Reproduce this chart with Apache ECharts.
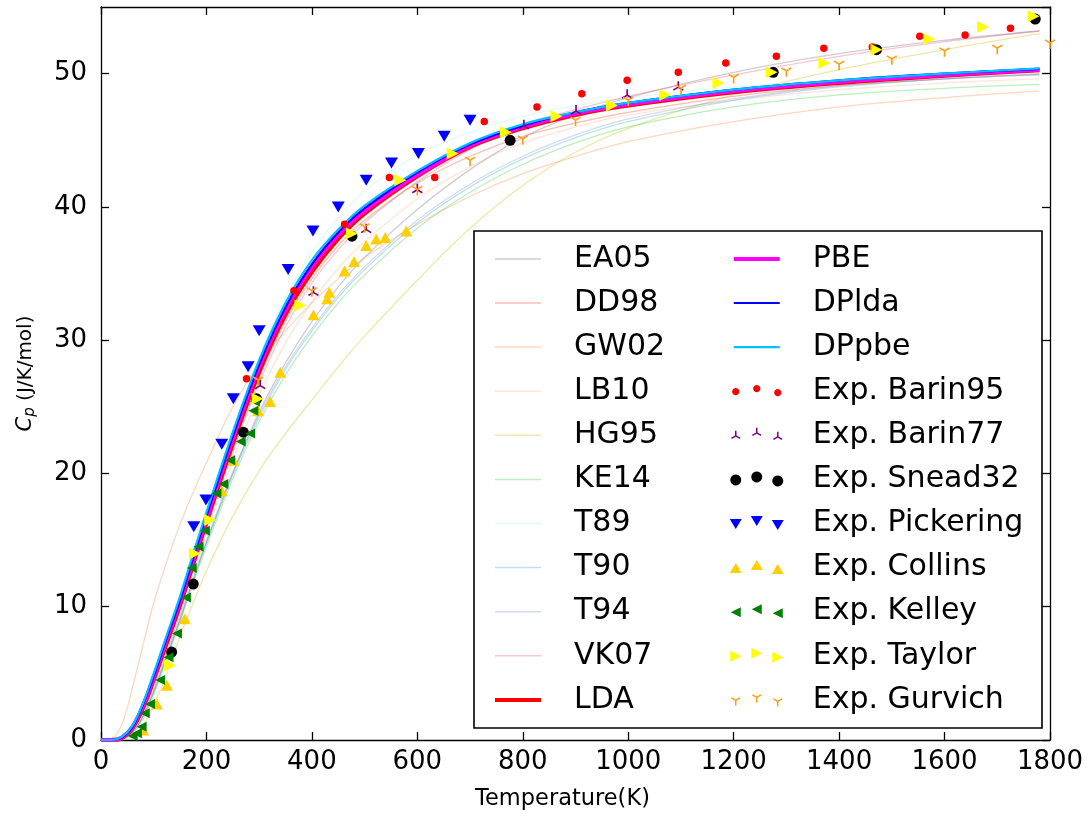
<!DOCTYPE html>
<html><head><meta charset="utf-8">
<script src="https://cdn.jsdelivr.net/npm/echarts@6/dist/echarts.min.js"></script>
<style>html,body{margin:0;padding:0;background:#fff}#c{width:1092px;height:816px}</style>
</head><body><div id="c"></div>
<script>
// ---------- data ----------
const T_GRID = [0, 20, 40, 60, 80, 100, 125, 150, 175, 200, 250, 300, 350, 400, 450, 500, 600, 700, 800, 900, 1000, 1200, 1400, 1600, 1780];
const EA05  = [0, 0, 0.1, 0.6, 1.8, 3.6, 6.3, 9.0, 12.0, 14.8, 20.0, 24.6, 28.3, 31.4, 34.0, 36.2, 39.8, 42.8, 45.2, 46.9, 48.2, 50.1, 51.5, 52.5, 53.2];
const DD98  = [0, 0, 0.2, 0.9, 2.4, 4.4, 7.2, 10.0, 13.1, 16.1, 22.0, 27.2, 31.4, 34.6, 37.1, 39.0, 41.8, 43.8, 45.3, 46.3, 47.1, 48.3, 49.1, 49.6, 50.0];
const GW02  = [0, 0.1, 1.2, 4.0, 7.2, 10.3, 13.4, 16.2, 18.6, 20.8, 25.0, 28.2, 30.7, 32.8, 34.6, 36.2, 38.7, 40.8, 42.5, 43.8, 44.9, 46.4, 47.5, 48.2, 48.7];
const LB10  = [0, 0, 0.1, 0.6, 1.9, 3.8, 6.6, 9.5, 12.6, 15.5, 21.0, 25.9, 29.8, 32.9, 35.4, 37.4, 40.6, 43.0, 44.8, 46.0, 46.9, 48.0, 48.8, 49.3, 49.6];
const HG95  = [0, 0, 0, 0.3, 1.1, 2.6, 5.0, 7.8, 10.3, 12.7, 16.8, 20.2, 23.0, 25.5, 28.0, 30.3, 34.5, 38.4, 41.6, 44.1, 45.9, 48.4, 50.3, 51.8, 53.0];
const KE14  = [0, 0, 0.1, 0.5, 1.6, 3.4, 6.1, 8.9, 11.8, 14.5, 19.6, 23.9, 27.4, 30.3, 32.8, 34.9, 38.4, 41.1, 43.2, 44.8, 46.0, 47.5, 48.4, 48.9, 49.2];
const T89   = [0, 0, 0.2, 1.0, 2.7, 4.8, 7.8, 10.6, 13.8, 16.9, 23.1, 28.7, 33.2, 36.6, 39.2, 41.2, 43.9, 45.6, 46.8, 47.6, 48.2, 49.0, 49.5, 49.8, 49.9];
const T90   = [0, 0, 0.1, 0.6, 1.8, 3.6, 6.3, 9.1, 12.0, 14.8, 19.9, 24.2, 27.8, 30.7, 33.2, 35.3, 38.8, 41.5, 43.6, 45.2, 46.4, 48.0, 49.0, 49.6, 49.95];
const T94   = [0, 0, 0.1, 0.6, 1.8, 3.7, 6.4, 9.2, 12.2, 15.0, 20.1, 24.4, 28.0, 30.9, 33.4, 35.5, 39.0, 41.7, 43.8, 45.4, 46.6, 48.1, 49.1, 49.6, 49.9];
const VK07  = [0, 0, 0.15, 0.8, 2.3, 4.3, 7.0, 9.9, 13.0, 16.0, 21.6, 26.8, 31.0, 34.3, 36.8, 38.8, 41.9, 44.3, 46.2, 47.3, 48.3, 49.9, 51.3, 52.4, 53.2];
const LDA   = [0, 0, 0.15, 0.9, 2.4, 4.5, 7.3, 10.1, 13.2, 16.3, 22.2, 27.6, 31.9, 35.1, 37.6, 39.5, 42.3, 44.5, 45.9, 46.9, 47.6, 48.6, 49.3, 49.85, 50.25];
const PBE   = [0, 0, 0.2, 1.0, 2.6, 4.7, 7.6, 10.4, 13.5, 16.6, 22.6, 28.0, 32.3, 35.5, 37.9, 39.7, 42.4, 44.6, 46.0, 47.0, 47.7, 48.7, 49.4, 49.9, 50.3];
const DPLDA = [0, 0, 0.2, 1.0, 2.7, 4.8, 7.7, 10.5, 13.7, 16.8, 22.8, 28.2, 32.5, 35.7, 38.1, 39.9, 42.6, 44.7, 46.1, 47.1, 47.8, 48.8, 49.5, 50.0, 50.35];
const DPPBE = [0, 0, 0.25, 1.1, 2.8, 5.0, 7.9, 10.8, 14.0, 17.1, 23.1, 28.5, 32.8, 36.0, 38.3, 40.1, 42.7, 44.8, 46.2, 47.1, 47.8, 48.8, 49.5, 50.0, 50.4];

const BARIN95_T  = [276, 366, 462, 547, 633, 727, 827, 912, 998, 1095, 1185, 1281, 1371, 1463, 1553, 1639, 1725];
const BARIN95_CP = [27.1, 33.7, 38.7, 42.2, 42.2, 46.4, 47.5, 48.5, 49.5, 50.1, 50.8, 51.3, 51.9, 52.0, 52.8, 52.9, 53.4];
const BARIN77_T  = [302, 403, 503, 600, 802, 901, 998, 1095];
const BARIN77_CP = [26.7, 33.7, 38.4, 41.4, 46.2, 47.3, 48.5, 49.1];
const SNEAD32_T  = [134, 175, 270, 295, 476, 776, 1275, 1471, 1772];
const SNEAD32_CP = [6.6, 11.7, 23.1, 25.6, 37.8, 45.0, 50.1, 51.8, 54.1];
const PICKERING_T  = [176, 199, 229, 251, 279, 300, 355, 402, 450, 503, 551, 602, 651, 700];
const PICKERING_CP = [16.0, 18.0, 22.2, 25.6, 28.0, 30.7, 35.3, 38.2, 40.0, 42.0, 43.3, 44.0, 45.3, 46.5];
const COLLINS_T  = [80, 106, 125, 159, 229, 251, 298, 321, 340, 403, 429, 433, 462, 480, 503, 522, 539, 579];
const COLLINS_CP = [0.75, 2.7, 4.1, 9.1, 18.7, 21.0, 24.7, 25.4, 27.6, 31.9, 33.1, 33.6, 35.2, 35.9, 37.1, 37.6, 37.7, 38.2];
const KELLEY_T  = [60, 68, 77, 83, 93, 112, 128, 144, 161, 172, 185, 197, 219, 232, 245, 265, 283, 289, 292];
const KELLEY_CP = [0.3, 0.5, 1.0, 2.0, 2.7, 4.5, 6.2, 8.0, 10.7, 12.9, 14.5, 15.7, 18.5, 19.2, 21.0, 22.4, 23.0, 24.7, 25.4];
const TAYLOR_T  = [131, 178, 207, 297, 378, 476, 568, 667, 768, 864, 969, 1070, 1171, 1272, 1372, 1471, 1571, 1673, 1769];
const TAYLOR_CP = [5.6, 14.0, 16.5, 25.6, 32.6, 38.0, 42.0, 44.0, 45.6, 46.8, 47.6, 48.4, 49.3, 50.1, 50.8, 51.8, 52.6, 53.5, 54.3];
const GURVICH_T  = [298, 400, 500, 600, 700, 800, 900, 1000, 1100, 1200, 1300, 1400, 1500, 1600, 1700, 1800];
const GURVICH_CP = [26.9, 33.6, 38.4, 41.2, 43.4, 45.0, 46.4, 47.9, 48.8, 49.6, 50.1, 50.6, 51.0, 51.6, 51.8, 52.2];

const X_TICKS = [0, 200, 400, 600, 800, 1000, 1200, 1400, 1600, 1800];
const Y_TICKS = [0, 10, 20, 30, 40, 50];

// ---------- helpers ----------
const FONT = 'DejaVu Sans';
const zip = (xs, ys) => xs.map((x, i) => [x, ys[i]]);
const IW = 58, IH = 20;
const XS = [8, 29, 50], YO = [0.5, -2.5, 1.5];
const frame = () => `M0,0 M${IW},${IH} `;
function lineIcon(w) {
  const a = IH / 2 - w / 2, b = IH / 2 + w / 2;
  return `path://${frame()}M6,${a}L52,${a}L52,${b}L6,${b}Z`;
}
function polyIcon(pts) {
  let s = frame();
  XS.forEach((x, i) => {
    const y = IH / 2 + YO[i];
    s += 'M' + pts.map(p => `${(x + p[0]).toFixed(2)},${(y + p[1]).toFixed(2)}`).join('L') + 'Z';
  });
  return 'path://' + s;
}
function circ(r) { const a = []; for (let k = 0; k < 20; k++) { const t = k / 20 * 2 * Math.PI; a.push([r * Math.cos(t), r * Math.sin(t)]); } return a; }
function tri(w, h, dir) {
  if (dir === 'down') return [[-w/2, -h/2], [w/2, -h/2], [0, h/2]];
  if (dir === 'up') return [[0, -h/2], [w/2, h/2], [-w/2, h/2]];
  if (dir === 'left') return [[-h/2, 0], [h/2, -w/2], [h/2, w/2]];
  return [[h/2, 0], [-h/2, -w/2], [-h/2, w/2]];
}
function spokeIcon(r, up) {
  let s = frame();
  XS.forEach((x, i) => {
    const y = IH / 2 + YO[i];
    const d = up ? [[0, -r], [-0.866 * r, 0.5 * r], [0.866 * r, 0.5 * r]] : [[0, r], [-0.866 * r, -0.5 * r], [0.866 * r, -0.5 * r]];
    d.forEach(p => { s += `M${x},${y}L${(x + p[0]).toFixed(2)},${(y + p[1]).toFixed(2)}`; });
  });
  return 'path://' + s;
}
const TRI_UP_PATH = 'path://M0,0L0,-10M0,0L-8.66,5M0,0L8.66,5';
const TRI_DOWN_PATH = 'path://M0,0L0,10M0,0L-8.66,-5M0,0L8.66,-5';

const theory = [
  { name: 'EA05', d: EA05, c: 'rgba(120,110,120,0.35)', w: 1.3 },
  { name: 'DD98', d: DD98, c: 'rgba(240,90,60,0.4)', w: 1.3 },
  { name: 'GW02', d: GW02, c: 'rgba(255,140,70,0.35)', w: 1.3 },
  { name: 'LB10', d: LB10, c: 'rgba(255,150,100,0.25)', w: 1.3 },
  { name: 'HG95', d: HG95, c: 'rgba(215,195,40,0.4)', w: 1.3 },
  { name: 'KE14', d: KE14, c: 'rgba(60,210,60,0.35)', w: 1.3 },
  { name: 'T89', d: T89, c: 'rgba(150,240,240,0.3)', w: 1.3 },
  { name: 'T90', d: T90, c: 'rgba(70,170,210,0.35)', w: 1.3 },
  { name: 'T94', d: T94, c: 'rgba(100,140,200,0.3)', w: 1.3 },
  { name: 'VK07', d: VK07, c: 'rgba(235,90,120,0.35)', w: 1.3 },
  { name: 'LDA', d: LDA, c: '#ff0000', w: 4 },
  { name: 'PBE', d: PBE, c: '#ff00ff', w: 4 },
  { name: 'DPlda', d: DPLDA, c: '#0000ff', w: 2.2 },
  { name: 'DPpbe', d: DPPBE, c: '#00bfff', w: 2.2 }
];

const exps = [
  { name: 'Exp. Barin95', t: BARIN95_T, v: BARIN95_CP, color: '#ff0000', symbol: 'circle', size: 7.5, icon: polyIcon(circ(3.6)) },
  { name: 'Exp. Barin77', t: BARIN77_T, v: BARIN77_CP, color: '#800080', symbol: TRI_UP_PATH, size: [10, 9], spoke: true, icon: spokeIcon(5, true) },
  { name: 'Exp. Snead32', t: SNEAD32_T, v: SNEAD32_CP, color: '#000000', symbol: 'circle', size: 11, icon: polyIcon(circ(5.5)) },
  { name: 'Exp. Pickering', t: PICKERING_T, v: PICKERING_CP, color: '#0000ff', symbol: 'triangle', rot: 180, size: [13, 11], icon: polyIcon(tri(12, 10, 'down')) },
  { name: 'Exp. Collins', t: COLLINS_T, v: COLLINS_CP, color: '#ffd000', symbol: 'triangle', rot: 0, size: [12, 11], icon: polyIcon(tri(12, 10, 'up')) },
  { name: 'Exp. Kelley', t: KELLEY_T, v: KELLEY_CP, color: '#008000', symbol: 'triangle', rot: 90, size: [10, 10], icon: polyIcon(tri(10, 10, 'left')) },
  { name: 'Exp. Taylor', t: TAYLOR_T, v: TAYLOR_CP, color: '#ffff00', symbol: 'triangle', rot: -90, size: [12, 12], icon: polyIcon(tri(11, 11, 'right')) },
  { name: 'Exp. Gurvich', t: GURVICH_T, v: GURVICH_CP, color: '#ff9f10', symbol: TRI_DOWN_PATH, size: [10, 9], spoke: true, icon: spokeIcon(5, false) }
];

const series = [];
theory.forEach(t => series.push({
  type: 'line', name: t.name, data: zip(T_GRID, t.d), smooth: 0.35, symbol: 'none', showSymbol: false,
  lineStyle: { color: t.c, width: t.w }, itemStyle: { color: t.c }, silent: true, z: 2
}));
exps.forEach(e => series.push({
  type: 'scatter', name: e.name, data: zip(e.t, e.v), symbol: e.symbol, symbolSize: e.size, symbolRotate: e.rot || 0,
  itemStyle: e.spoke ? { color: 'rgba(0,0,0,0)', borderColor: e.color, borderWidth: 1.6, opacity: 1 } : { color: e.color, opacity: 1 },
  silent: true, z: 3
}));

function legendItem(name) {
  const t = theory.find(x => x.name === name);
  if (t) return { name, icon: lineIcon(t.w < 2 ? 1.5 : t.w) };
  const e = exps.find(x => x.name === name);
  if (e.spoke) return { name, icon: e.icon, itemStyle: { color: 'rgba(0,0,0,0)', borderColor: e.color, borderWidth: 1.5 } };
  return { name, icon: e.icon };
}
const COL1 = ['EA05', 'DD98', 'GW02', 'LB10', 'HG95', 'KE14', 'T89', 'T90', 'T94', 'VK07', 'LDA'];
const COL2 = ['PBE', 'DPlda', 'DPpbe', 'Exp. Barin95', 'Exp. Barin77', 'Exp. Snead32', 'Exp. Pickering', 'Exp. Collins', 'Exp. Kelley', 'Exp. Taylor', 'Exp. Gurvich'];

const legendBase = {
  orient: 'vertical', top: 243.9, itemWidth: IW, itemHeight: IH, itemGap: 14.1, padding: 0,
  selectedMode: false, z: 10,
  itemStyle: { borderWidth: 0 },
  textStyle: { fontFamily: FONT, fontSize: 30, color: '#000', lineHeight: 30, padding: [0, 0, 0, 22] }
};

const axisCommon = {
  type: 'value',
  axisLine: { show: true, onZero: false, lineStyle: { color: '#000', width: 1.3 } },
  axisTick: { show: true, inside: true, length: 8, lineStyle: { color: '#000', width: 1.3 } },
  splitLine: { show: false }
};

const chart = echarts.init(document.getElementById('c'), null, { renderer: 'canvas' });
chart.setOption({
  animation: false,
  backgroundColor: '#fff',
  grid: { left: 101, right: 42, top: 7, bottom: 76, containLabel: false, outerBoundsMode: 'none' },
  xAxis: [
    Object.assign({}, axisCommon, {
      position: 'bottom', min: X_TICKS[0], max: X_TICKS[X_TICKS.length - 1], interval: X_TICKS[1] - X_TICKS[0],
      axisLabel: { fontFamily: FONT, fontSize: 26, color: '#000', margin: 9, formatter: v => String(v) },
      name: 'Temperature(K)', nameLocation: 'middle', nameGap: 48,
      nameTextStyle: { fontFamily: FONT, fontSize: 22.5, color: '#000', padding: [0, 26, 0, 0] }
    }),
    Object.assign({}, axisCommon, {
      position: 'top', min: X_TICKS[0], max: X_TICKS[X_TICKS.length - 1], interval: X_TICKS[1] - X_TICKS[0],
      axisLabel: { show: false }
    })
  ],
  yAxis: [
    Object.assign({}, axisCommon, {
      position: 'left', min: Y_TICKS[0], max: 55, interval: Y_TICKS[1] - Y_TICKS[0],
      axisLabel: { fontFamily: FONT, fontSize: 26, color: '#000', margin: 14, showMaxLabel: false,
        formatter: v => (Y_TICKS.indexOf(v) >= 0 ? String(v) : '') },
      name: '{c|C}{p|p} (J/K/mol)', nameLocation: 'middle', nameRotate: 90, nameGap: 63,
      nameTextStyle: { fontFamily: FONT, fontSize: 20, color: '#000',
        rich: { c: { fontFamily: FONT, fontSize: 21, fontStyle: 'italic', color: '#000' },
                p: { fontFamily: FONT, fontSize: 15, fontStyle: 'italic', color: '#000', padding: [9, 0, 0, 0] } } }
    }),
    Object.assign({}, axisCommon, {
      position: 'right', min: Y_TICKS[0], max: 55, interval: Y_TICKS[1] - Y_TICKS[0],
      axisLabel: { show: false }
    })
  ],
  legend: [
    Object.assign({}, legendBase, { left: 489, data: COL1.map(legendItem) }),
    Object.assign({}, legendBase, { left: 727, data: COL2.map(legendItem) })
  ],
  graphic: [{
    type: 'rect', z: 5, silent: true,
    shape: { x: 474, y: 231, width: 568, height: 497 },
    style: { fill: '#fff', stroke: '#000', lineWidth: 1.6 }
  }],
  series
});
</script>
</body></html>
